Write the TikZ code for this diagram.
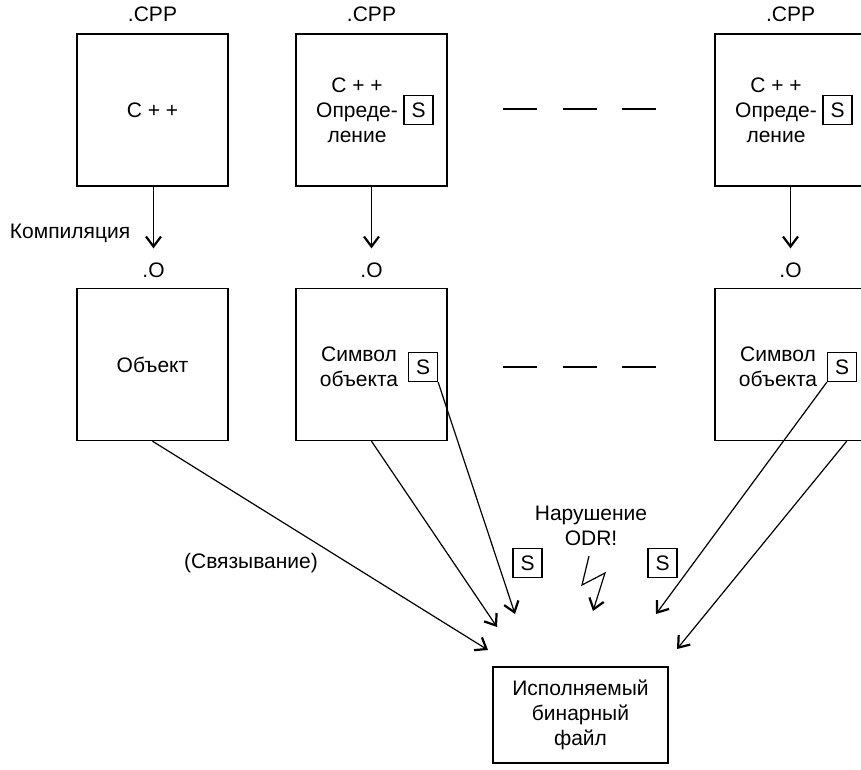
\documentclass[tikz,border=0pt]{standalone}
\usepackage{fontspec}
\setmainfont{Liberation Sans}
\usetikzlibrary{arrows.meta,calc}
\begin{document}
\begin{tikzpicture}[x=1pt,y=-1pt,
  every node/.style={font=\fontsize{21}{25}\selectfont, inner sep=0pt},
  unit/.style={draw, line width=1.4pt, minimum width=151pt, minimum height=152pt, align=center},
  sym/.style={draw, line width=1.2pt, minimum width=29pt, minimum height=29pt, inner sep=0pt},
  txt/.style={align=center},
  link/.style={line width=1.2pt, -{Straight Barb[length=10pt,width=15pt,line width=2.2pt]}},
  gap/.style={line width=1.5pt}]
\useasboundingbox (0,0) rectangle (861,769);
\clip (0,0) rectangle (861,769);

% source files
\node[txt] (c1) at (152.5,14) {.CPP};
\node[txt] (c2) at (371.5,14) {.CPP};
\node[txt] (c3) at (790.5,14) {.CPP};
\node[unit] (t1) at (152.5,110) {C + +};
\node[unit] (t2) at (371.5,110) {};
\node[unit] (t3) at (790.5,110) {};
\node[txt] (d2) at (357,110) {C + +\\Опреде-\\ление};
\node[txt] (d3) at (776,110) {C + +\\Опреде-\\ление};
\node[sym] (s1) at (418.5,110) {S};
\node[sym] (s2) at (837.5,110) {S};

% object files
\node[txt] (o1) at (153.5,270) {.O};
\node[txt] (o2) at (371.5,270) {.O};
\node[txt] (o3) at (790.5,270) {.O};
\node[unit] (m1) at (152.5,364.5) {Объект};
\node[unit] (m2) at (371.5,364.5) {};
\node[unit] (m3) at (790.5,364.5) {};
\node[txt] (n2) at (359,367) {Символ\\объекта};
\node[txt] (n3) at (778,367) {Символ\\объекта};
\node[sym] (s3) at (423,367) {S};
\node[sym] (s4) at (842,367) {S};

% gaps between the second and the last unit
\foreach \y in {109,367}{
  \draw[gap] (503,\y) -- (537,\y);
  \draw[gap] (563,\y) -- (597,\y);
  \draw[gap] (622,\y) -- (656,\y);
}

% compilation
\node[txt] (lc) at (70,233) {Компиляция};
\draw[link, shorten >=14pt] (t1.south -| o1) -- (o1.north);
\draw[link, shorten >=14pt] (t2.south) -- (o2.north);
\draw[link, shorten >=14pt] (t3.south) -- (o3.north);

% linking
\node[unit, minimum width=175pt, minimum height=96pt] (exe) at (580.5,715) {Исполняемый\\бинарный\\файл};
\node[txt] (ll) at (251,563) {(Связывание)};
\node[sym] (s5) at (527.5,563) {S};
\node[sym] (s6) at (662.5,563) {S};
\node[txt] (odr) at (591,526) {Нарушение\\ODR!};

\coordinate (e1) at (488,650);
\coordinate (e2) at (497,627);
\coordinate (e3) at (515,614);
\coordinate (e4) at (656,614);
\coordinate (e5) at (677,649);
\draw[link] (m1.south) -- (e1);
\draw[link] (m2.south) -- (e2);
\draw[link] (s3.south east) -- (e3);
\draw[link] (s4.south west) -- (e4);
\draw[link] ([xshift=-20pt]m3.south east) -- (e5);

% conflict bolt
\coordinate (b0) at (589,556);
\coordinate (b1) at (582,585);
\coordinate (b2) at (605,573);
\coordinate (b3) at (593,611);
\draw[link] (b0) -- (b1) -- (b2) -- (b3);
\end{tikzpicture}
\end{document}
